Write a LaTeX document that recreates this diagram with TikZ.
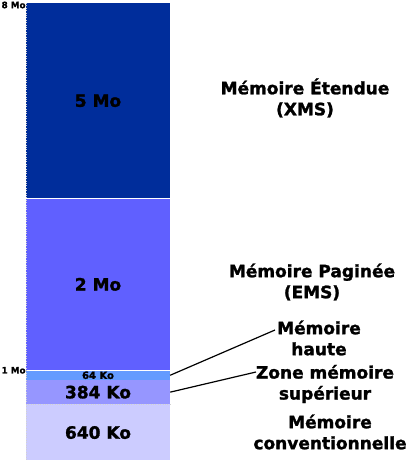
\documentclass[tikz,border=0pt]{standalone}
\usepackage{fontspec}
\setmainfont{DejaVu Sans}[BoldFeatures={FakeBold=1.5}]
\usetikzlibrary{positioning}
\definecolor{xmsblue}{RGB}{0,45,155}
\definecolor{emsblue}{RGB}{96,96,255}
\definecolor{hmablue}{RGB}{100,155,255}
\definecolor{umbblue}{RGB}{150,150,255}
\definecolor{convblue}{RGB}{204,204,255}
\begin{document}
\begin{tikzpicture}[x=1pt, y=1pt,
    seg/.style={rectangle, inner sep=0pt, minimum width=144pt,
                font=\fontsize{17}{21}\selectfont\bfseries},
    tiny/.style={inner sep=0pt, font=\fontsize{8.8}{10}\selectfont\bfseries},
    lbl/.style={align=center, inner sep=0pt,
                font=\fontsize{17}{21}\selectfont\bfseries},
    link/.style={line width=1.2pt, black}]
\useasboundingbox (0,0) rectangle (407,-460);
% memory bar
\node[seg, fill=xmsblue, minimum height=195pt, anchor=north] (ext) at (98,-3) {5 Mo};
\node[seg, fill=emsblue, minimum height=171.5pt, below=0pt of ext] (ems) {2 Mo};
\node[seg, fill=hmablue, minimum height=9.5pt, below=0pt of ems] (hma) {\fontsize{10}{10}\selectfont 64 Ko};
\node[seg, fill=umbblue, minimum height=23.5pt, below=0pt of hma] (umb) {384 Ko};
\node[seg, fill=convblue, minimum height=56.5pt, below=0pt of umb] (conv) {640 Ko};
\draw[gray!35, dotted] (ext.north west) -- (conv.south west);
\draw[gray!35, dotted] (umb.south west) -- (umb.south east);
% addresses
\node[tiny, anchor=east] (top8) at ([yshift=-2pt]ext.north west) {8 Mo};
\node[tiny, anchor=east] (top1) at (ems.south west) {1 Mo};
% labels
\node[lbl] (xmslbl) at (305,-98) {Mémoire Étendue\\(XMS)};
\node[lbl] (emslbl) at (312,-282) {Mémoire Paginée\\(EMS)};
\node[lbl] (hautelbl) at (319,-338) {Mémoire\\haute};
\node[lbl] (zonelbl) at (325,-384) {Zone mémoire\\supérieur};
\node[lbl] (convlbl) at (330,-432) {Mémoire\\conventionnelle};
\coordinate (hautetip) at (275,-330);
\coordinate (zonetip) at (256,-372);
\draw[link] (hma.east) -- (hautetip);
\draw[link] (umb.east) -- (zonetip);
\end{tikzpicture}
\end{document}
